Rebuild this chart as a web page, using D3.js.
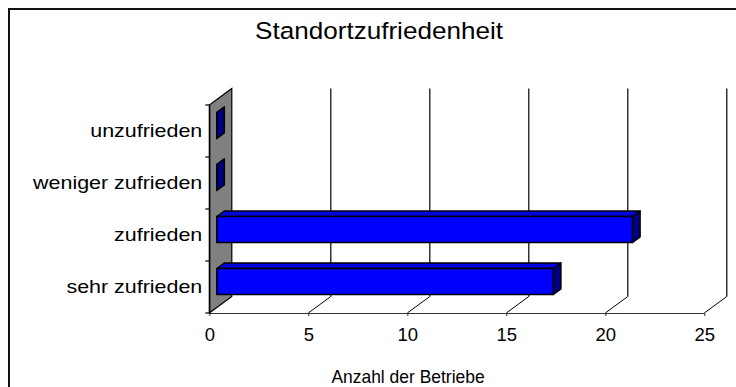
<!DOCTYPE html>
<html>
<head>
<meta charset="utf-8">
<script src="https://cdn.jsdelivr.net/npm/d3@7"></script>
<style>
  html, body { margin: 0; padding: 0; background: #fff; }
  svg { display: block; font-family: Arial, "Liberation Sans", sans-serif; }
</style>
</head>
<body>
<svg id="chart" width="736" height="387"></svg>
<script>
// Satisfaction with the business location (number of companies)
const categories = ["unzufrieden", "weniger zufrieden", "zufrieden", "sehr zufrieden"];
const values = [0, 0, 21, 17];
const xTicks = [0, 5, 10, 15, 20, 25];
const title = "Standortzufriedenheit";
const xTitle = "Anzahl der Betriebe";

const svg = d3.select("#chart");
const FONT = "Arial, 'Liberation Sans', sans-serif";

// plot geometry (front plane) and depth vector of the 3D box
const front = { left: 209.3, right: 704.3, top: 105, bottom: 313 };
const depth = { dx: 22.5, dy: -16.5 };

const x = d3.scaleLinear().domain([0, 25]).range([front.left, front.right]);
const y = d3.scaleBand().domain(categories).range([front.top, front.bottom]).padding(0);

// chart frame
svg.append("rect")
  .attr("x", 9).attr("y", 9).attr("width", 800).attr("height", 400)
  .attr("fill", "none").attr("stroke", "#111").attr("stroke-width", 2);

// text drawn slightly widened, as in the original chart fonts
function wideText(parent, tx, ty, anchor, size, sx, str) {
  return parent.append("text")
    .attr("transform", `translate(${tx},${ty}) scale(${sx},1)`)
    .attr("text-anchor", anchor)
    .attr("font-size", size)
    .attr("font-family", FONT)
    .attr("fill", "#000")
    .text(str);
}

// title
wideText(svg, 379, 38.5, "middle", 23.5, 1.11, title);

const grid = svg.append("g");
// back-wall gridlines
grid.selectAll("line.back")
  .data(xTicks.filter(d => d > 0))
  .join("line")
  .attr("class", "back")
  .attr("x1", d => x(d) + depth.dx).attr("x2", d => x(d) + depth.dx)
  .attr("y1", front.bottom + depth.dy).attr("y2", front.top + depth.dy)
  .attr("stroke", "#000").attr("stroke-width", 1.2);
// floor gridlines running into depth
grid.selectAll("line.floor")
  .data(xTicks.filter(d => d > 0))
  .join("line")
  .attr("class", "floor")
  .attr("x1", d => x(d)).attr("x2", d => x(d) + depth.dx)
  .attr("y1", front.bottom).attr("y2", front.bottom + depth.dy)
  .attr("stroke", "#000").attr("stroke-width", 1);

// grey side wall
const wall = [
  [x(0), front.bottom],
  [x(0), front.top],
  [x(0) + depth.dx, front.top + depth.dy],
  [x(0) + depth.dx, front.bottom + depth.dy]
];
svg.append("path")
  .attr("d", d3.line()(wall) + "Z")
  .attr("fill", "#808080").attr("stroke", "#000").attr("stroke-width", 1.2);

// value axis along the front edge of the floor
const xAxis = svg.append("g")
  .attr("transform", `translate(0,${front.bottom})`)
  .call(d3.axisBottom(x).tickValues(xTicks).tickSize(3).tickPadding(12).tickSizeOuter(0));
xAxis.select(".domain").attr("stroke", "#333");
xAxis.selectAll(".tick line").attr("stroke", "#333");
xAxis.selectAll(".tick text")
  .attr("font-size", 18.5).attr("fill", "#000")
  .attr("font-family", FONT);

// category axis along the front edge of the wall
const yAxis = svg.append("g")
  .attr("transform", `translate(${front.left},0)`)
  .call(d3.axisLeft(y).tickSize(0).tickFormat(""));
yAxis.select(".domain").attr("stroke", "#000").attr("stroke-width", 1.2);
const catLabels = svg.append("g");
categories.forEach(c => {
  wideText(catLabels, front.left - 7, y(c) + y.bandwidth() / 2 + 6.2, "end", 18.5, 1.16, c);
});
// tick marks between the categories
svg.append("g").selectAll("line")
  .data(d3.range(categories.length + 1))
  .join("line")
  .attr("x1", front.left - 4).attr("x2", front.left)
  .attr("y1", i => front.top + i * y.bandwidth())
  .attr("y2", i => front.top + i * y.bandwidth())
  .attr("stroke", "#000").attr("stroke-width", 1.2);

// 3D bars: placed between 1/3 and 2/3 of the depth
const d1 = { dx: depth.dx / 3, dy: depth.dy / 3 };
const d2 = { dx: depth.dx * 2 / 3, dy: depth.dy * 2 / 3 };
const bw = y.bandwidth();
const bars = svg.append("g").selectAll("g")
  .data(categories.map((c, i) => ({ c, v: values[i] })))
  .join("g");

bars.each(function (d) {
  const g = d3.select(this);
  const x0 = x(0), x1 = x(d.v);
  const yt = y(d.c) + bw * 0.25, yb = y(d.c) + bw * 0.75;
  const pf = (px, py, o) => [px + o.dx, py + o.dy];
  const line = d3.line();
  // top face
  g.append("path")
    .attr("d", line([pf(x0, yt, d1), pf(x1, yt, d1), pf(x1, yt, d2), pf(x0, yt, d2)]) + "Z")
    .attr("fill", "#0000e0").attr("stroke", "#000").attr("stroke-width", 1.5)
    .attr("stroke-linejoin", "round");
  // front face
  g.append("path")
    .attr("d", line([pf(x0, yt, d1), pf(x1, yt, d1), pf(x1, yb, d1), pf(x0, yb, d1)]) + "Z")
    .attr("fill", "#0000ff").attr("stroke", "#000").attr("stroke-width", 1.5)
    .attr("stroke-linejoin", "round");
  // end face
  g.append("path")
    .attr("d", line([pf(x1, yt, d1), pf(x1, yt, d2), pf(x1, yb, d2), pf(x1, yb, d1)]) + "Z")
    .attr("fill", "#000080").attr("stroke", "#000").attr("stroke-width", 1.5)
    .attr("stroke-linejoin", "round");
});

// value axis title
wideText(svg, 408, 383, "middle", 18, 0.97, xTitle);
</script>
</body>
</html>
